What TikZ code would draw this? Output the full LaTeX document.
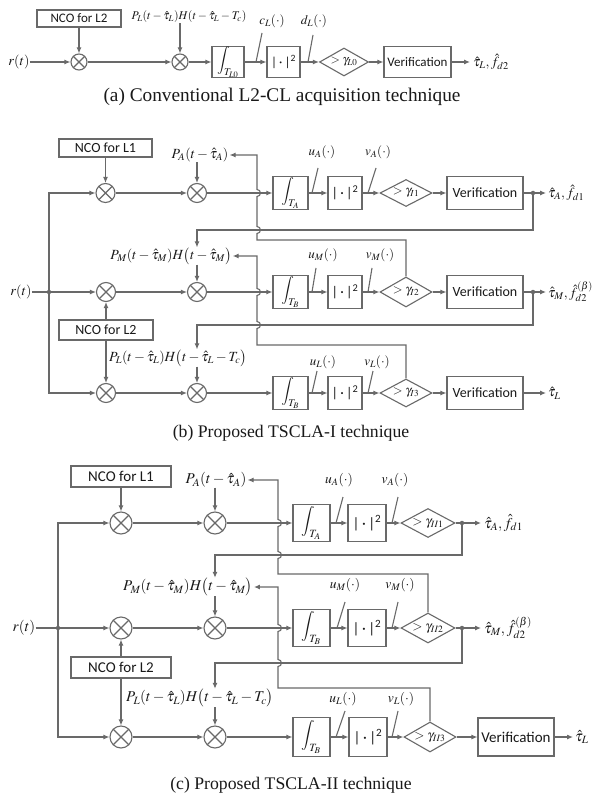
\documentclass[tikz,border=0pt]{standalone}
\usepackage{mathptmx}
\usepackage[no-math]{fontspec}
\setmainfont{Liberation Serif}
\newfontfamily\calfont{Carlito}
\usetikzlibrary{arrows.meta,shapes.geometric,calc}
\definecolor{lc}{RGB}{105,105,105}
\definecolor{tc}{RGB}{25,25,25}
\newcommand\myfa{\fontsize{14}{14}\selectfont}
\newcommand\myfb{\fontsize{14}{14}\selectfont}
\newcommand\myfc{\fontsize{15}{15}\selectfont}
\newcommand\myua{\fontsize{13}{13}\selectfont}
\newcommand\myub{\fontsize{13}{13}\selectfont}
\newcommand\myuc{\fontsize{13.5}{13.5}\selectfont}
\newcommand\mysa{\calfont\fontsize{13}{13}\selectfont}
\newcommand\mysb{\calfont\fontsize{14}{14}\selectfont}
\newcommand\mysc{\calfont\fontsize{15}{15}\selectfont}
\newcommand\mysq{|\,·\,|\textsuperscript{2}}
\tikzset{
 ln/.style={draw=lc,line width=1.1pt},
 arr/.style={ln,-{Latex[length=6pt,width=5pt]}},
 blk/.style={draw=lc,line width=1.1pt,rectangle,inner sep=0pt,text=tc},
 mix/.style={draw=lc,line width=1.1pt,circle,inner sep=0pt,minimum size=#1,
   path picture={\draw[lc,line width=1.1pt] (path picture bounding box.north west)--(path picture bounding box.south east) (path picture bounding box.north east)--(path picture bounding box.south west);}},
 dia/.style={draw=lc,line width=1.1pt,diamond,inner sep=0pt},
 lab/.style={inner sep=0pt,text=tc},
 dotn/.style={circle,fill=lc,inner sep=0pt,minimum size=4.5pt},
 capt/.style={inner sep=0pt,text=tc,font=\fontsize{17.7}{18}\selectfont},
}
\begin{document}
\begin{tikzpicture}[x=1pt,y=-1pt]
\useasboundingbox[fill=white] (0,0) rectangle (600,799);
%%%%%%%%%%%%%%%%%% (a)
\node[blk,minimum width=84pt,minimum height=17pt,font=\mysa] (ncoA) at (79,18.5) {NCO for L2};
\node[mix=16pt] (a1) at (79,62) {};
\node[mix=16pt] (a2) at (180,62) {};
\node[lab,font=\myfa] (rtA) at (19,62) {$r(t)$};
\node[lab,font=\fontsize{11.8}{12}\selectfont] (PLa) at (189,17) {$P_L(t-\hat\tau_L)H(t-\hat\tau_L-T_c)$};
\node[blk,minimum width=32pt,minimum height=31pt,font=\myfa] (intA) at (228,62) {$\displaystyle\int_{T_{L0}}$};
\node[blk,minimum width=33pt,minimum height=31pt,font=\mysa] (sqA) at (283.5,62) {\mysq};
\node[dia,minimum width=49pt,minimum height=28pt] (diaA) at (344,62) {};
\node[lab,font=\fontsize{12}{12}\selectfont] (gA) at (diaA) {$>\gamma_{L0}$};
\node[blk,minimum width=67pt,minimum height=31pt,font=\mysa] (verA) at (417.5,62) {Verification};
\node[lab,font=\myfa,anchor=west] (outA) at (473,62) {$\hat\tau_L,\hat f_{d2}$};
\node[lab,font=\myua] (cL) at (272,21) {$c_L(\cdot)$};
\node[lab,font=\myua] (dL) at (314,21) {$d_L(\cdot)$};
\coordinate (cLt) at (262,33); \coordinate (cLb) at (256,62);
\coordinate (dLt) at (313,35); \coordinate (dLb) at (308,62);
\draw[ln] (cLt) -- (cLb);
\draw[ln] (dLt) -- (dLb);
\draw[arr] (ncoA.south) -- (a1.north);
\draw[arr] (rtA.east) -- (a1.west);
\draw[arr] (a1.east) -- (a2.west);
\draw[arr] (a2 |- PLa.south) -- (a2.north);
\draw[arr] (a2.east) -- (intA.west);
\draw[arr] (intA.east) -- (sqA.west);
\draw[arr] (sqA.east) -- (diaA.west);
\draw[arr] (diaA.east) -- (verA.west);
\draw[arr,shorten >=3pt] (verA.east) -- (outA.west);
\node[capt,font=\fontsize{19.3}{20}\selectfont] (capA) at (282,97) {(a) Conventional L2-CL acquisition technique};
%%%%%%%%%%%%%%%%%% (b)
\node[blk,minimum width=93pt,minimum height=18pt,font=\mysb] (ncoL1b) at (105.5,148) {NCO for L1};
\node[mix=19pt] (b11) at (105.5,193) {};
\node[mix=19pt] (b12) at (197,193) {};
\node[lab,font=\myfb] (PAb) at (200,155) {$P_A(t-\hat\tau_A)$};
\node[blk,minimum width=35pt,minimum height=33pt,font=\myfb] (intAb) at (290.5,193) {$\displaystyle\int_{T_A}$};
\node[blk,minimum width=34pt,minimum height=33pt,font=\mysb] (sqAb) at (345,193) {\mysq};
\node[dia,minimum width=52pt,minimum height=27pt] (diaAb) at (406,193) {};
\node[lab,font=\fontsize{12.5}{12.5}\selectfont] (gAb) at (diaAb) {$>\gamma_{I1}$};
\node[blk,minimum width=76pt,minimum height=33pt,font=\mysb] (verAb) at (485,193) {Verification};
\node[dotn] (tapAb) at (533,193) {};
\node[lab,font=\myfb,anchor=west] (outAb) at (548,193) {$\hat\tau_A,\hat f_{d1}$};
\node[lab,font=\myub] (uAb) at (322,152) {$u_A(\cdot)$};
\node[lab,font=\myub] (vAb) at (378,152) {$v_A(\cdot)$};
\coordinate (uAbt) at (318,168); \coordinate (uAbb) at (312,193);
\coordinate (vAbt) at (376,168); \coordinate (vAbb) at (368,193);
\draw[ln] (uAbt) -- (uAbb); \draw[ln] (vAbt) -- (vAbb);
% row 2
\node[lab,font=\myfb] (rtb) at (21,292) {$r(t)$};
\node[dotn] (jb) at (49,292) {};
\node[mix=19pt] (b21) at (106,292) {};
\node[mix=19pt] (b22) at (197,292) {};
\node[blk,minimum width=94pt,minimum height=20pt,font=\mysb] (ncoL2b) at (106,330) {NCO for L2};
\node[lab,font=\myfb] (PMb) at (171,256) {$P_M(t-\hat\tau_M)H\bigl(t-\hat\tau_M\bigr)$};
\node[blk,minimum width=35pt,minimum height=33pt,font=\myfb] (intBb) at (290.5,292) {$\displaystyle\int_{T_B}$};
\node[blk,minimum width=34pt,minimum height=33pt,font=\mysb] (sqMb) at (345,292) {\mysq};
\node[dia,minimum width=52pt,minimum height=30pt] (diaMb) at (406,292) {};
\node[lab,font=\fontsize{12.5}{12.5}\selectfont] (gMb) at (diaMb) {$>\gamma_{I2}$};
\node[blk,minimum width=76pt,minimum height=33pt,font=\mysb] (verMb) at (485,292) {Verification};
\node[dotn] (tapMb) at (533,292) {};
\node[lab,font=\myfb,anchor=west] (outMb) at (548,292) {$\hat\tau_M,\hat f_{d2}^{(\beta)}$};
\node[lab,font=\myub] (uMb) at (323,255) {$u_M(\cdot)$};
\node[lab,font=\myub] (vMb) at (380,255) {$v_M(\cdot)$};
\coordinate (uMbt) at (316,268); \coordinate (uMbb) at (312,292);
\coordinate (vMbt) at (372,268); \coordinate (vMbb) at (368,292);
\draw[ln] (uMbt) -- (uMbb); \draw[ln] (vMbt) -- (vMbb);
% row 3
\node[mix=19pt] (b31) at (106,393) {};
\node[mix=19pt] (b32) at (197,393) {};
\node[lab,font=\myfb] (PLb) at (178,358) {$P_L(t-\hat\tau_L)H\bigl(t-\hat\tau_L-T_c\bigr)$};
\node[blk,minimum width=35pt,minimum height=33pt,font=\myfb] (intLb) at (290.5,393) {$\displaystyle\int_{T_B}$};
\node[blk,minimum width=34pt,minimum height=33pt,font=\mysb] (sqLb) at (345,393) {\mysq};
\node[dia,minimum width=52pt,minimum height=28pt] (diaLb) at (406,393) {};
\node[lab,font=\fontsize{12.5}{12.5}\selectfont] (gLb) at (diaLb) {$>\gamma_{I3}$};
\node[blk,minimum width=76pt,minimum height=33pt,font=\mysb] (verLb) at (485,393) {Verification};
\node[lab,font=\myfb,anchor=west] (outLb) at (548,393) {$\hat\tau_L$};
\node[lab,font=\myub] (uLb) at (323,362) {$u_L(\cdot)$};
\node[lab,font=\myub] (vLb) at (377,362) {$v_L(\cdot)$};
\coordinate (uLbt) at (317,371); \coordinate (uLbb) at (312,393);
\coordinate (vLbt) at (373,371); \coordinate (vLbb) at (368,393);
\draw[ln] (uLbt) -- (uLbb); \draw[ln] (vLbt) -- (vLbb);
% connectors (b)
\draw[arr] (ncoL1b.south) -- (b11.north);
\draw[arr] (b11.east) -- (b12.west);
\draw[arr] (b12 |- PAb.south) -- (b12.north);
\draw[arr] (b12.east) -- (intAb.west);
\draw[arr] (intAb.east) -- (sqAb.west);
\draw[arr] (sqAb.east) -- (diaAb.west);
\draw[arr] (diaAb.east) -- (verAb.west);
\draw[ln] (verAb.east) -- (tapAb.center);
\draw[arr,shorten >=2pt] (tapAb.center) -- (outAb.west);
\draw[ln] (rtb.east) -- (jb.center);
\draw[arr] (jb.center) -- (b21.west);
\draw[arr] (jb.center) |- (b11.west);
\draw[arr] (jb.center) |- (b31.west);
\draw[arr] (ncoL2b.north) -- (b21.south);
\draw[arr] (ncoL2b.south) -- (b31.north);
\draw[arr] (b21.east) -- (b22.west);
\draw[arr] (b22 |- PMb.south) -- (b22.north);
\draw[arr] (b22.east) -- (intBb.west);
\draw[arr] (intBb.east) -- (sqMb.west);
\draw[arr] (sqMb.east) -- (diaMb.west);
\draw[arr] (diaMb.east) -- (verMb.west);
\draw[ln] (verMb.east) -- (tapMb.center);
\draw[arr,shorten >=2pt] (tapMb.center) -- (outMb.west);
\draw[arr] (b31.east) -- (b32.west);
\draw[arr] (b32 |- PLb.south) -- (b32.north);
\draw[arr] (b32.east) -- (intLb.west);
\draw[arr] (intLb.east) -- (sqLb.west);
\draw[arr] (sqLb.east) -- (diaLb.west);
\draw[arr] (diaLb.east) -- (verLb.west);
\draw[arr,shorten >=2pt] (verLb.east) -- (outLb.west);
% feedbacks (b)
\coordinate (fb1) at (197,230);
\coordinate (fb2) at (197,325);
\draw[arr] (tapAb.center) |- (fb1) -- (fb1 |- PMb.north);
\draw[arr] (tapMb.center) |- (fb2) -- (fb2 |- PLb.north);
\draw[arr,shorten >=1pt] (diaMb.north) |- (257,240) -- (257,233.5) .. controls (261.5,233.5) and (261.5,226.5) .. (257,226.5)
  -- (257,196.5) .. controls (261.5,196.5) and (261.5,189.5) .. (257,189.5) |- (PAb.east);
\draw[arr,shorten >=1pt] (diaLb.north) |- (257,345) -- (257,328.5) .. controls (261.5,328.5) and (261.5,321.5) .. (257,321.5)
  -- (257,295.5) .. controls (261.5,295.5) and (261.5,288.5) .. (257,288.5) |- (PMb.east);
\node[capt] (capB) at (291,433) {(b) Proposed TSCLA-I technique};
%%%%%%%%%%%%%%%%%% (c)
\node[blk,minimum width=100pt,minimum height=21pt,font=\mysc] (ncoL1c) at (121,476.5) {NCO for L1};
\node[mix=22pt] (c11) at (121,523) {};
\node[mix=22pt] (c12) at (215,523) {};
\node[lab,font=\myfc] (PAc) at (216,480) {$P_A(t-\hat\tau_A)$};
\node[blk,minimum width=37pt,minimum height=37pt,font=\myfc] (intAc) at (311.5,523) {$\displaystyle\int_{T_A}$};
\node[blk,minimum width=38pt,minimum height=37pt,font=\mysc] (sqAc) at (367,523) {\mysq};
\node[dia,minimum width=54pt,minimum height=29pt] (diaAc) at (428,523) {};
\node[lab,font=\fontsize{13}{13}\selectfont] (gAc) at (diaAc) {$>\gamma_{II1}$};
\node[dotn] (tapAc) at (462,523) {};
\node[lab,font=\myfc,anchor=west] (outAc) at (484,523) {$\hat\tau_A,\hat f_{d1}$};
\node[lab,font=\myuc] (uAc) at (339,480) {$u_A(\cdot)$};
\node[lab,font=\myuc] (vAc) at (395,480) {$v_A(\cdot)$};
\coordinate (uAct) at (343,497); \coordinate (uAcb) at (336,523);
\coordinate (vAct) at (398,497); \coordinate (vAcb) at (392,523);
\draw[ln] (uAct) -- (uAcb); \draw[ln] (vAct) -- (vAcb);
% row 2
\node[lab,font=\myfc] (rtc) at (24,628) {$r(t)$};
\node[dotn] (jc) at (58,628) {};
\node[mix=22pt] (c21) at (121,628) {};
\node[mix=22pt] (c22) at (215,628) {};
\node[blk,minimum width=100pt,minimum height=21pt,font=\mysc] (ncoL2c) at (121,667.5) {NCO for L2};
\node[lab,font=\myfc] (PMc) at (188,587) {$P_M(t-\hat\tau_M)H\bigl(t-\hat\tau_M\bigr)$};
\node[blk,minimum width=37pt,minimum height=37pt,font=\myfc] (intBc) at (311.5,628) {$\displaystyle\int_{T_B}$};
\node[blk,minimum width=38pt,minimum height=37pt,font=\mysc] (sqMc) at (367,628) {\mysq};
\node[dia,minimum width=54pt,minimum height=30pt] (diaMc) at (428,628) {};
\node[lab,font=\fontsize{13}{13}\selectfont] (gMc) at (diaMc) {$>\gamma_{II2}$};
\node[dotn] (tapMc) at (462,628) {};
\node[lab,font=\myfc,anchor=west] (outMc) at (484,628) {$\hat\tau_M,\hat f_{d2}^{(\beta)}$};
\node[lab,font=\myuc] (uMc) at (345,585) {$u_M(\cdot)$};
\node[lab,font=\myuc] (vMc) at (400,585) {$v_M(\cdot)$};
\coordinate (uMct) at (345,602); \coordinate (uMcb) at (337,628);
\coordinate (vMct) at (398,602); \coordinate (vMcb) at (392,628);
\draw[ln] (uMct) -- (uMcb); \draw[ln] (vMct) -- (vMcb);
% row 3
\node[mix=22pt] (c31) at (121,737) {};
\node[mix=22pt] (c32) at (215,737) {};
\node[lab,font=\myfc] (PLc) at (200,698) {$P_L(t-\hat\tau_L)H\bigl(t-\hat\tau_L-T_c\bigr)$};
\node[blk,minimum width=37pt,minimum height=39pt,font=\myfc] (intLc) at (311.5,737) {$\displaystyle\int_{T_B}$};
\node[blk,minimum width=38pt,minimum height=39pt,font=\mysc] (sqLc) at (368,737) {\mysq};
\node[dia,minimum width=52pt,minimum height=30pt] (diaLc) at (430,737) {};
\node[lab,font=\fontsize{13}{13}\selectfont] (gLc) at (diaLc) {$>\gamma_{II3}$};
\node[blk,minimum width=76pt,minimum height=38pt,font=\mysc] (verLc) at (516,737) {Verification};
\node[lab,font=\myfc,anchor=west] (outLc) at (575,737) {$\hat\tau_L$};
\node[lab,font=\myuc] (uLc) at (343,699) {$u_L(\cdot)$};
\node[lab,font=\myuc] (vLc) at (401,699) {$v_L(\cdot)$};
\coordinate (uLct) at (345,711); \coordinate (uLcb) at (336,737);
\coordinate (vLct) at (398,711); \coordinate (vLcb) at (392,737);
\draw[ln] (uLct) -- (uLcb); \draw[ln] (vLct) -- (vLcb);
% connectors (c)
\draw[arr] (ncoL1c.south) -- (c11.north);
\draw[arr] (c11.east) -- (c12.west);
\draw[arr] (c12 |- PAc.south) -- (c12.north);
\draw[arr] (c12.east) -- (intAc.west);
\draw[arr] (intAc.east) -- (sqAc.west);
\draw[arr] (sqAc.east) -- (diaAc.west);
\draw[ln] (diaAc.east) -- (tapAc.center);
\draw[arr,shorten >=3pt] (tapAc.center) -- (outAc.west);
\draw[ln] (rtc.east) -- (jc.center);
\draw[arr] (jc.center) -- (c21.west);
\draw[arr] (jc.center) |- (c11.west);
\draw[arr] (jc.center) |- (c31.west);
\draw[arr] (ncoL2c.north) -- (c21.south);
\draw[arr] (ncoL2c.south) -- (c31.north);
\draw[arr] (c21.east) -- (c22.west);
\draw[arr] (c22 |- PMc.south) -- (c22.north);
\draw[arr] (c22.east) -- (intBc.west);
\draw[arr] (intBc.east) -- (sqMc.west);
\draw[arr] (sqMc.east) -- (diaMc.west);
\draw[ln] (diaMc.east) -- (tapMc.center);
\draw[arr,shorten >=3pt] (tapMc.center) -- (outMc.west);
\draw[arr] (c31.east) -- (c32.west);
\draw[arr] (c32 |- PLc.south) -- (c32.north);
\draw[arr] (c32.east) -- (intLc.west);
\draw[arr] (intLc.east) -- (sqLc.west);
\draw[arr] (sqLc.east) -- (diaLc.west);
\draw[arr] (diaLc.east) -- (verLc.west);
\draw[arr,shorten >=2pt] (verLc.east) -- (outLc.west);
% feedbacks (c)
\coordinate (fc1) at (215,555);
\coordinate (fc2) at (215,663);
\draw[arr] (tapAc.center) |- (fc1) -- (fc1 |- PMc.north);
\draw[arr] (tapMc.center) |- (fc2) -- (fc2 |- PLc.north);
\draw[arr,shorten >=1pt] (diaMc.north) |- (278,574) -- (278,558.5) .. controls (282.5,558.5) and (282.5,551.5) .. (278,551.5)
  -- (278,526.5) .. controls (282.5,526.5) and (282.5,519.5) .. (278,519.5) |- (PAc.east);
\draw[arr,shorten >=1pt] (diaLc.north) |- (278,688) -- (278,666.5) .. controls (282.5,666.5) and (282.5,659.5) .. (278,659.5)
  -- (278,631.5) .. controls (282.5,631.5) and (282.5,624.5) .. (278,624.5) |- (PMc.east);
\node[capt] (capC) at (291,785) {(c) Proposed TSCLA-II technique};
\end{tikzpicture}
\end{document}
